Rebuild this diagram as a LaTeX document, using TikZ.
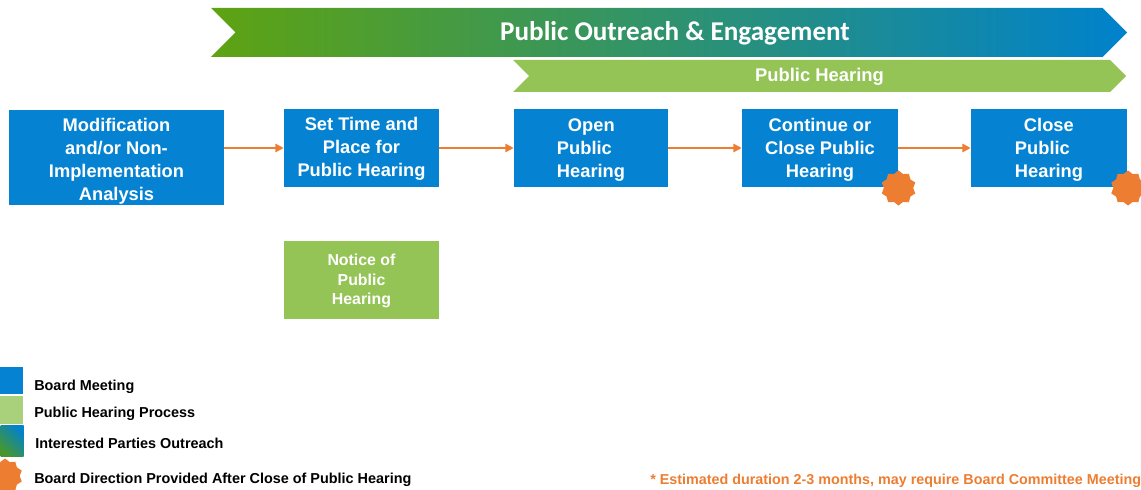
\documentclass[tikz,border=0pt]{standalone}
\usepackage{fontspec}
\setmainfont{Liberation Sans}
\newfontfamily\bannerfont{Carlito}
\usepackage{xcolor}
\usetikzlibrary{shapes.geometric, shapes.symbols, arrows.meta, positioning}
\definecolor{boardblue}{HTML}{0583D2}
\definecolor{hearinggreen}{HTML}{94C356}
\definecolor{legendgreen}{HTML}{A9D07A}
\definecolor{burstorange}{HTML}{ED7D31}
\definecolor{outreachgreen}{HTML}{5EA311}
\definecolor{outreachteal}{HTML}{0F7878}
\definecolor{outreachblue}{HTML}{0082CC}

\begin{document}
\begin{tikzpicture}[
    board/.style={fill=boardblue, minimum height=1.95cm, inner sep=0pt, align=center, text=white, text depth=0.4pt, font=\fontsize{13}{16.4}\selectfont\bfseries},
    notice/.style={fill=hearinggreen, minimum width=3.875cm, minimum height=1.95cm, inner sep=0pt, align=center, text=white, text depth=0.7pt, font=\fontsize{11.3}{13.9}\selectfont\bfseries},
    banner/.style={signal, signal from=west, signal to=east, signal pointer angle=90, inner sep=0pt, text=white},
    burst/.style={star, star points=10, star point ratio=1.2, fill=burstorange, minimum size=0.88cm, inner sep=0pt},
    swatch/.style={minimum width=0.575cm, inner sep=0pt},
    legend/.style={anchor=west, inner sep=0pt, font=\fontsize{10.25}{12}\selectfont\bfseries},
    flow/.style={-{Triangle[length=6pt, width=6pt]}, draw=burstorange, line width=1.1pt}
]
    \useasboundingbox (0,0) rectangle (28.525,-12.25);

    % banners
    \node[banner, minimum width=22.9cm, minimum height=1.225cm, left color=outreachgreen, middle color=outreachteal, right color=outreachblue, text height=13pt, text depth=1.7pt, font=\bannerfont\fontsize{19.3}{22}\selectfont\bfseries] (outreach) at (16.725,-0.8125) {\hspace*{0.3cm}Public Outreach \& Engagement};
    \node[banner, fill=hearinggreen, minimum width=15.325cm, minimum height=0.8cm, text height=9.6pt, text depth=1.5pt, font=\fontsize{13.1}{14}\selectfont\bfseries] (hearing) at (20.4875,-1.9) {Public Hearing};

    % process boxes
    \node[board, minimum width=5.375cm, minimum height=2.375cm, text height=61.5pt, text depth=0pt] (analysis) at (2.9125,-3.9375) {Modification\\and/or Non-\\Implementation\\Analysis};
    \node[board, minimum width=3.875cm, text depth=1.9pt] (settime) at (9.0375,-3.7) {Set Time and\\Place for\\Public Hearing};
    \node[board, minimum width=3.85cm, align=left] (open) at (14.775,-3.7) {\hspace*{0.275cm}Open\\Public\\Hearing};
    \node[board, minimum width=3.9cm] (continue) at (20.5,-3.7) {Continue or\\Close Public\\Hearing};
    \node[board, minimum width=3.9cm, align=left] (close) at (26.225,-3.7) {\hspace*{0.225cm}Close\\Public\\Hearing};
    \node[notice] (notice) at (9.0375,-7) {Notice of\\Public\\Hearing};

    \draw[flow] (analysis.east |- settime.west) -- (settime.west);
    \draw[flow] (settime.east) -- (open.west);
    \draw[flow] (open.east) -- (continue.west);
    \draw[flow] (continue.east) -- (close.west);

    \node[burst] (burstcontinue) at (22.4625,-4.7) {};
    \node[burst] (burstclose) at (28.2,-4.7) {};

    % legend
    \node[swatch, fill=boardblue, minimum height=0.675cm] (keyboard) at (0.2875,-9.5125) {};
    \node[swatch, fill=legendgreen, minimum height=0.7cm] (keyhearing) at (0.2875,-10.25) {};
    \node[swatch, minimum height=0.775cm, left color=outreachgreen!70!outreachteal, middle color=outreachteal, right color=outreachblue, shading angle=135] (keyoutreach) at (0.3,-11.0125) {};
    \node[burst] (keyburst) at (0.125,-11.9) {};
    \node[legend] (textboard) at (0.85,-9.675) {Board Meeting};
    \node[legend] (texthearing) at (0.85,-10.35) {Public Hearing Process};
    \node[legend] (textoutreach) at (0.875,-11.075) {Interested Parties Outreach};
    \node[legend] (textburst) at (0.85,-12) {Board Direction Provided After Close of Public Hearing};
    \node[legend, text=burstorange, font=\fontsize{10.2}{12}\selectfont\bfseries] (duration) at (16.25,-12.025) {* Estimated duration 2-3 months, may require Board Committee Meeting};
\end{tikzpicture}
\end{document}
